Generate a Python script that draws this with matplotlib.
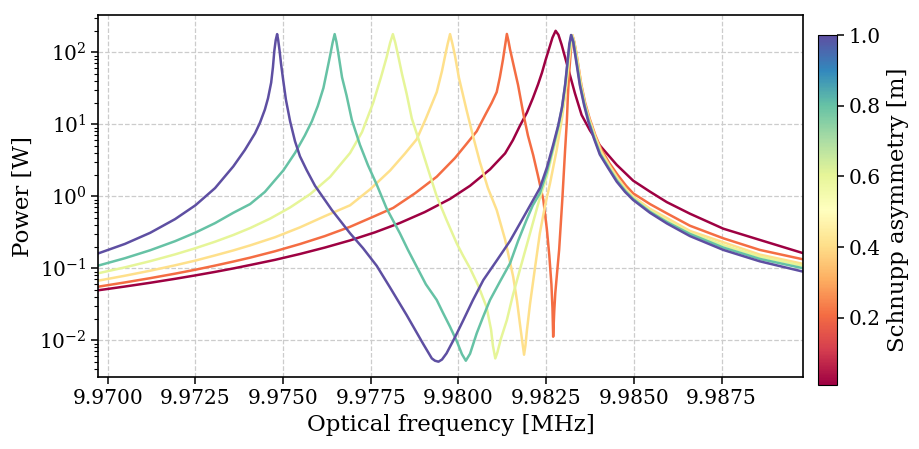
import matplotlib
matplotlib.use("Agg")
import matplotlib.pyplot as plt
from matplotlib.colors import Normalize
from matplotlib.cm import ScalarMappable
from matplotlib.ticker import FormatStrFormatter

plt.rcParams['font.family'] = ['DejaVu Serif']

# Schnupp asymmetry of each trace [m]
asym = [0.01, 0.208, 0.406, 0.604, 0.802, 1.0]

# values (frequency in MHz, power in W)
f_001 = [9.96973, 9.97049, 9.97121, 9.97192, 9.97250, 9.97306, 9.97358, 9.97406, 9.97477, 9.97548,
         9.97619, 9.97691, 9.97762, 9.97833, 9.97904, 9.97976, 9.98033, 9.98090, 9.98133, 9.98155,
         9.98175, 9.98195, 9.98212, 9.98227, 9.98238, 9.98249, 9.98259, 9.98268, 9.98277, 9.98285,
         9.98294, 9.98304, 9.98318, 9.98332, 9.98351, 9.98375, 9.98403, 9.98451, 9.98498, 9.98546,
         9.98594, 9.98660, 9.98755, 9.98859, 9.98983]
p_001 = [0.0495, 0.0558, 0.0629, 0.0714, 0.0797, 0.0891, 0.0995, 0.111, 0.131, 0.158,
         0.194, 0.244, 0.316, 0.426, 0.604, 0.92, 1.40, 2.37, 3.95, 6.0,
         9.5, 14.5, 23, 36, 52, 80, 115, 160, 199, 175,
         128, 85, 48, 27, 13.5, 8.2, 5.1, 2.74, 1.65, 1.16,
         0.83, 0.573, 0.355, 0.248, 0.162]

f_02 = [9.96973, 9.97049, 9.97121, 9.97192, 9.97250, 9.97306, 9.97358, 9.97406, 9.97477, 9.97548,
        9.97619, 9.97691, 9.97762, 9.97814, 9.97876, 9.97938, 9.97990, 9.98021, 9.98052, 9.98078,
        9.98095, 9.98109, 9.98118, 9.98127, 9.98133, 9.98138, 9.98143, 9.98147, 9.98156, 9.98170,
        9.98185, 9.98198, 9.98213, 9.98227, 9.98242, 9.98252, 9.98259, 9.98265, 9.98268, 9.98270,
        9.98273, 9.98276, 9.98280, 9.98287, 9.98296, 9.98304, 9.98309, 9.98312, 9.98316, 9.98320,
        9.98325, 9.98330, 9.98336, 9.98342, 9.98350, 9.98361, 9.98374, 9.98390, 9.98407, 9.98430,
        9.98455, 9.98478, 9.98498, 9.98546, 9.98594, 9.98660, 9.98755, 9.98859, 9.98983]
p_02 = [0.0555, 0.0636, 0.0729, 0.0842, 0.0955, 0.109, 0.124, 0.1405, 0.1725, 0.217,
        0.28, 0.377, 0.533, 0.69, 1.10, 1.87, 3.4, 5.2, 8, 14,
        20, 28, 45, 80, 125, 180, 140, 110, 70, 35,
        14, 7, 3.74, 1.9, 0.889, 0.35, 0.15, 0.06, 0.028, 0.0112,
        0.025, 0.045, 0.075, 0.18, 0.889, 4.4, 11, 25, 55, 100,
        172, 140, 98, 64, 36, 20, 12, 7.1, 4.5, 2.9,
        1.95, 1.4, 1.10, 0.78, 0.58, 0.39, 0.261, 0.18, 0.133]

f_04 = [9.96973, 9.97049, 9.97121, 9.97192, 9.97250, 9.97306, 9.97358, 9.97406, 9.97477, 9.97548,
        9.97619, 9.97691, 9.97748, 9.97805, 9.97847, 9.97881, 9.97907, 9.97938, 9.97953, 9.97962,
        9.97969, 9.97976, 9.97983, 9.97990, 9.98001, 9.98023, 9.98041, 9.98061, 9.98084, 9.98109,
        9.98133, 9.98156, 9.98167, 9.98175, 9.98182, 9.98187, 9.98191, 9.98195, 9.98204, 9.98218,
        9.98232, 9.98247, 9.98261, 9.98280, 9.98295, 9.98304, 9.98312, 9.98318, 9.98323, 9.98325,
        9.98330, 9.98336, 9.98342, 9.98350, 9.98361, 9.98374, 9.98390, 9.98407, 9.98430, 9.98455,
        9.98478, 9.98498, 9.98546, 9.98594, 9.98660, 9.98755, 9.98859, 9.98983]
p_04 = [0.0673, 0.0788, 0.0925, 0.110, 0.128, 0.151, 0.177, 0.208, 0.27, 0.37,
        0.53, 0.75, 1.25, 2.28, 3.9, 6.2, 12, 28, 55, 90,
        130, 179, 130, 90, 45, 15.8, 7.0, 3.0, 1.3, 0.645,
        0.25, 0.0763, 0.035, 0.0172, 0.0095, 0.0063, 0.0085, 0.0135, 0.032, 0.1,
        0.306, 0.75, 1.51, 4.4, 12, 25, 55, 100, 150, 172,
        140, 98, 64, 35, 19, 11.5, 6.8, 4.2, 2.7, 1.75,
        1.25, 0.99, 0.67, 0.5, 0.33, 0.23, 0.155, 0.115]

f_06 = [9.96973, 9.97049, 9.97121, 9.97192, 9.97250, 9.97306, 9.97358, 9.97406, 9.97463, 9.97520,
        9.97577, 9.97634, 9.97691, 9.97725, 9.97757, 9.97779, 9.97795, 9.97805, 9.97813, 9.97820,
        9.97828, 9.97839, 9.97852, 9.97867, 9.97890, 9.97913, 9.97938, 9.97966, 9.97995, 9.98013,
        9.98033, 9.98056, 9.98080, 9.98093, 9.98098, 9.98105, 9.98111, 9.98121, 9.98138, 9.98155,
        9.98175, 9.98204, 9.98232, 9.98252, 9.98270, 9.98287, 9.98298, 9.98307, 9.98314, 9.98319,
        9.98322, 9.98328, 9.98334, 9.98339, 9.98348, 9.98359, 9.98371, 9.98388, 9.98404, 9.98428,
        9.98452, 9.98476, 9.98498, 9.98546, 9.98594, 9.98660, 9.98755, 9.98859, 9.98983]
p_06 = [0.0853, 0.103, 0.1255, 0.156, 0.19, 0.234, 0.29, 0.362, 0.49, 0.70,
        1.07, 1.86, 4.0, 7.8, 20, 45, 85, 135, 179, 135,
        90, 50, 26.9, 12, 5.45, 2.4, 1.0, 0.469, 0.222, 0.15,
        0.1, 0.058, 0.029, 0.014, 0.0085, 0.0056, 0.0068, 0.0105, 0.0191, 0.042,
        0.095, 0.306, 0.95, 1.9, 4.3, 9, 17, 36, 80, 130,
        172, 140, 98, 64, 35, 19, 11.4, 6.6, 4.0, 2.6,
        1.7, 1.2, 0.95, 0.63, 0.46, 0.31, 0.21, 0.145, 0.108]

f_08 = [9.96973, 9.97049, 9.97121, 9.97192, 9.97250, 9.97306, 9.97358, 9.97406, 9.97448, 9.97501,
        9.97534, 9.97562, 9.97582, 9.97599, 9.97615, 9.97625, 9.97634, 9.97641, 9.97647, 9.97652,
        9.97657, 9.97668, 9.97681, 9.97696, 9.97719, 9.97742, 9.97767, 9.97795, 9.97833, 9.97856,
        9.97881, 9.97907, 9.97938, 9.97956, 9.97976, 9.97996, 9.98010, 9.98021, 9.98033, 9.98052,
        9.98070, 9.98090, 9.98118, 9.98147, 9.98170, 9.98194, 9.98212, 9.98232, 9.98252, 9.98270,
        9.98285, 9.98296, 9.98305, 9.98312, 9.98317, 9.98322, 9.98328, 9.98333, 9.98339, 9.98347,
        9.98359, 9.98371, 9.98387, 9.98404, 9.98427, 9.98452, 9.98476, 9.98498, 9.98546, 9.98594,
        9.98660, 9.98755, 9.98859, 9.98983]
p_08 = [0.109, 0.138, 0.178, 0.238, 0.313, 0.424, 0.59, 0.78, 1.15, 2.3,
        4.0, 7.0, 11, 18, 32, 55, 90, 135, 179, 140,
        100, 45, 25, 11.5, 5.2, 2.7, 1.45, 0.68, 0.306, 0.18,
        0.105, 0.06, 0.0363, 0.024, 0.0154, 0.0095, 0.0064, 0.0052, 0.0065, 0.0125,
        0.021, 0.0363, 0.065, 0.117, 0.24, 0.469, 0.75, 1.1, 2.2, 4.8,
        9.5, 18, 38, 80, 130, 172, 140, 98, 64, 35,
        19, 11.3, 6.5, 3.9, 2.55, 1.65, 1.18, 0.92, 0.61, 0.44,
        0.3, 0.194, 0.135, 0.1]

f_10 = [9.96973, 9.97049, 9.97121, 9.97192, 9.97250, 9.97306, 9.97358, 9.97391, 9.97420, 9.97434,
        9.97448, 9.97457, 9.97466, 9.97471, 9.97475, 9.97479, 9.97483, 9.97486, 9.97490, 9.97494,
        9.97500, 9.97508, 9.97520, 9.97534, 9.97548, 9.97567, 9.97591, 9.97615, 9.97639, 9.97691,
        9.97728, 9.97767, 9.97805, 9.97852, 9.97900, 9.97924, 9.97933, 9.97943, 9.97953, 9.97966,
        9.97990, 9.98014, 9.98041, 9.98071, 9.98110, 9.98147, 9.98181, 9.98213, 9.98232, 9.98252,
        9.98270, 9.98284, 9.98295, 9.98304, 9.98311, 9.98316, 9.98321, 9.98327, 9.98332, 9.98338,
        9.98346, 9.98358, 9.98370, 9.98386, 9.98403, 9.98426, 9.98451, 9.98475, 9.98498, 9.98546,
        9.98594, 9.98660, 9.98755, 9.98859, 9.98983]
p_10 = [0.161, 0.218, 0.311, 0.482, 0.75, 1.30, 2.6, 4.4, 7.5, 10.5,
        16, 23, 38, 62, 105, 148, 179, 148, 105, 70,
        42, 22, 11, 5.8, 3.6, 2.32, 1.4, 0.95, 0.645, 0.306,
        0.19, 0.108, 0.054, 0.0225, 0.0088, 0.0056, 0.0052, 0.00504, 0.0054, 0.00659,
        0.011, 0.0191, 0.036, 0.0688, 0.13, 0.24, 0.47, 0.889, 1.3, 2.5,
        5.2, 9.5, 17, 35, 75, 130, 174, 140, 97, 63,
        35, 18.6, 11, 6.4, 3.8, 2.5, 1.6, 1.15, 0.889, 0.59,
        0.42, 0.28, 0.18, 0.125, 0.0897]

freqs = [f_001, f_02, f_04, f_06, f_08, f_10]
powers = [p_001, p_02, p_04, p_06, p_08, p_10]
xticks = [9.9700, 9.9725, 9.9750, 9.9775, 9.9800, 9.9825, 9.9850, 9.9875]

fig = plt.figure(figsize=(9.2, 4.49), dpi=100)
ax = fig.add_axes([0.1068, 0.1597, 0.7663, 0.8069])
cax = fig.add_axes([0.8891, 0.1425, 0.0207, 0.7795])

cmap = plt.cm.Spectral
norm = Normalize(vmin=0.01, vmax=1.0)

for a, f, p in zip(asym, freqs, powers):
    ax.plot(f, p, color=cmap(norm(a)), lw=1.8)

ax.set_yscale('log')
ax.set_xlim(9.96973, 9.98983)
ax.set_ylim(0.00306, 330)
ax.set_xticks(xticks)
ax.xaxis.set_major_formatter(FormatStrFormatter('%.4f'))
ax.grid(True, which='major', linestyle='--', color='#cccccc', lw=0.9)
ax.tick_params(labelsize=14.5, length=5, width=1.1)
ax.tick_params(which='minor', length=3, width=0.8)
for s in ax.spines.values():
    s.set_linewidth(1.2)
ax.set_xlabel('Optical frequency [MHz]', fontsize=16.5)
ax.set_ylabel('Power [W]', fontsize=16.5)

sm = ScalarMappable(norm=norm, cmap=cmap)
cb = fig.colorbar(sm, cax=cax, ticks=[0.2, 0.4, 0.6, 0.8, 1.0])
cb.ax.tick_params(labelsize=14.5, length=5, width=1.1)
cb.set_label('Schnupp asymmetry [m]', fontsize=16.5)

fig.savefig('out.png', dpi=100)
